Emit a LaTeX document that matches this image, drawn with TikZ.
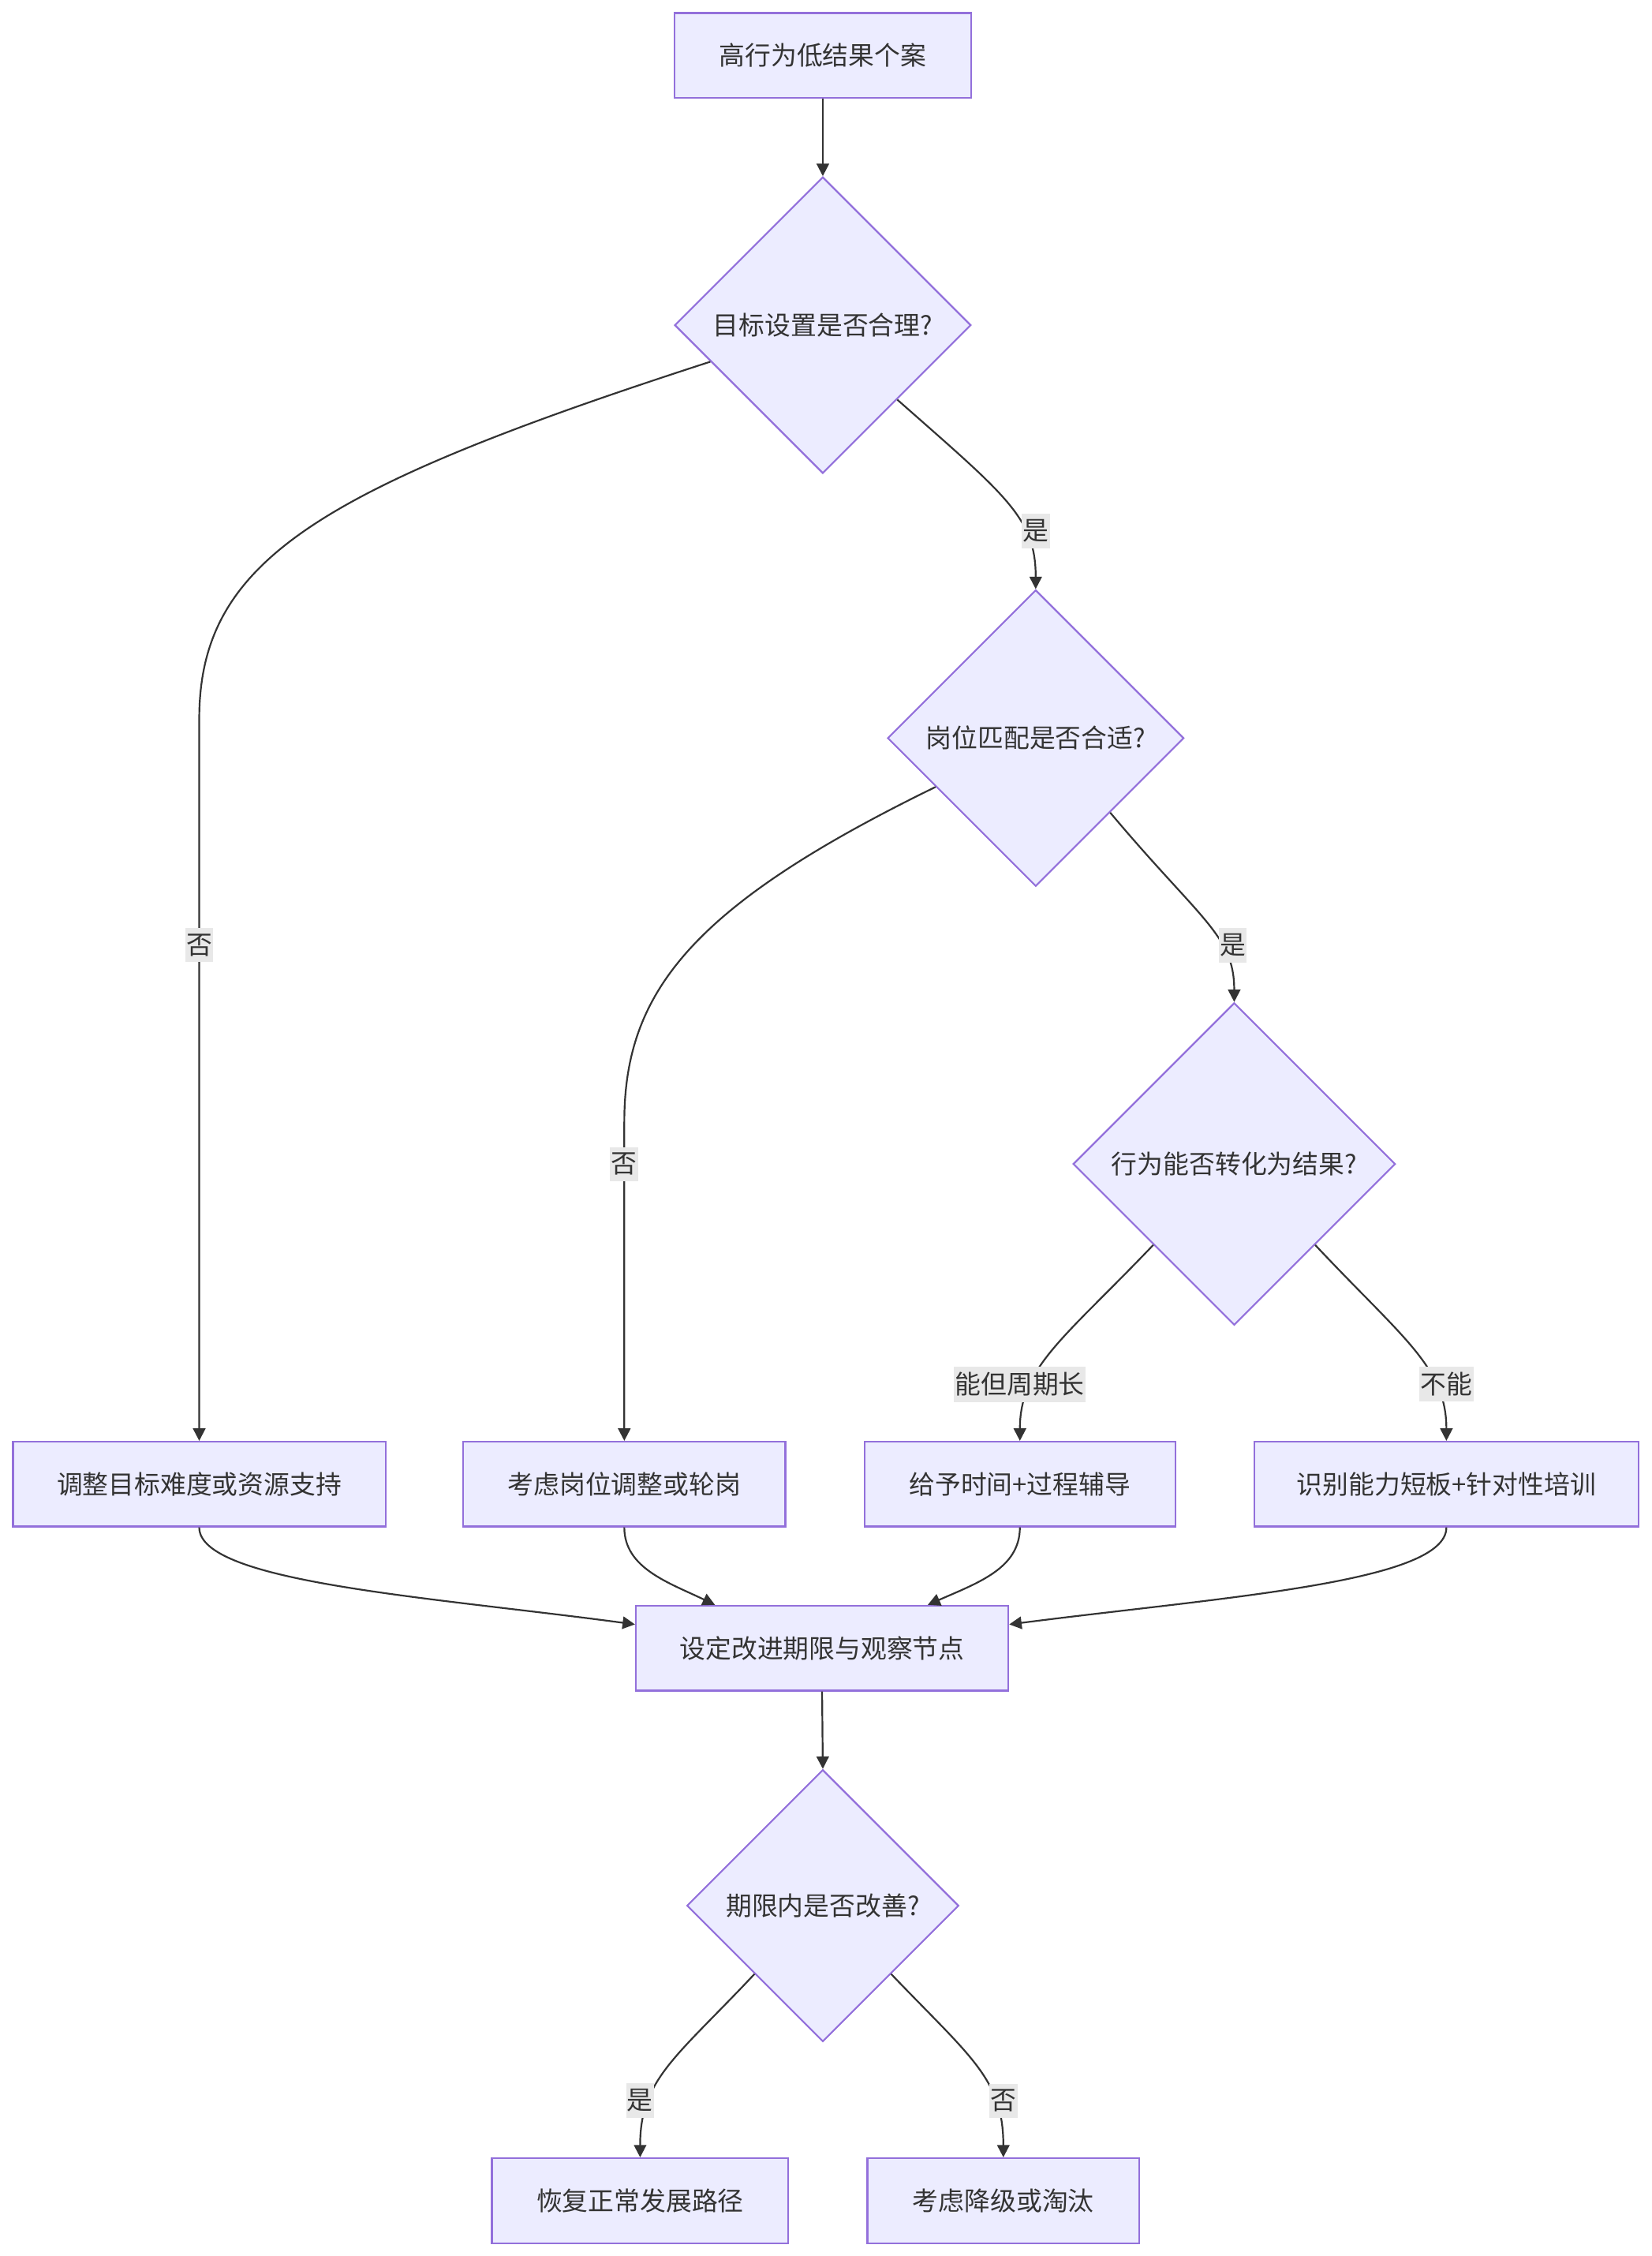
\documentclass[tikz,border=0pt]{standalone}
\usepackage{fontspec}
\setmainfont{Noto Sans CJK SC}
\usetikzlibrary{shapes.geometric,arrows.meta}
\definecolor{nodefill}{HTML}{ECECFF}
\definecolor{nodeline}{HTML}{9370DB}
\definecolor{edgeline}{HTML}{333333}
\definecolor{lblbg}{HTML}{E8E8E8}
\definecolor{txt}{HTML}{333333}
\begin{document}
\begin{tikzpicture}[x=0.5pt,y=-0.5pt,
  txtfont/.style={text=txt, font=\fontsize{9pt}{11pt}\selectfont},
  box/.style={draw=nodeline, fill=nodefill, line width=0.6pt, minimum height=29.5pt, inner sep=0pt, txtfont},
  dia/.style={diamond, draw=nodeline, fill=nodefill, line width=0.6pt, inner sep=0pt, aspect=1, txtfont},
  lbl/.style={fill=lblbg, inner xsep=0.4pt, inner ysep=2pt, txtfont},
  edge/.style={draw=edgeline, line width=0.6pt, -{Triangle[length=4.3pt,width=4.3pt]}}]
\fill[white] (0,0) rectangle (1148,1568);
\useasboundingbox (0,0) rectangle (1148,1568);

\node[box, minimum width=103pt] (A) at (572,38.5) {高行为低结果个案};
\node[dia, minimum width=103pt, minimum height=103pt] (B) at (572,226) {目标设置是否合理?};
\node[dia, minimum width=103pt, minimum height=103pt] (C) at (720,513) {岗位匹配是否合适?};
\node[dia, minimum width=112pt, minimum height=112pt] (D) at (858,809) {行为能否转化为结果?};
\node[box, minimum width=129.5pt] (E) at (138.5,1031.5) {调整目标难度或资源支持};
\node[box, minimum width=112pt] (F) at (434,1031.5) {考虑岗位调整或轮岗};
\node[box, minimum width=108pt] (G) at (709,1031.5) {给予时间+过程辅导};
\node[box, minimum width=133.5pt] (H) at (1005.5,1031.5) {识别能力短板+针对性培训};
\node[box, minimum width=129.5pt] (I) at (571.5,1145.5) {设定改进期限与观察节点};
\node[dia, minimum width=94.5pt, minimum height=94.5pt] (J) at (572,1324.5) {期限内是否改善?};
\node[box, minimum width=103pt] (K) at (445,1529.5) {恢复正常发展路径};
\node[box, minimum width=94.5pt] (L) at (697.5,1529.5) {考虑降级或淘汰};

\draw[edge] (A.south) -- (B.north);
\draw[edge] (B.198.66) .. controls (220,340) and (138.5,390) .. (138.5,500) -- (E.north);
\draw[edge] (B.south east) .. controls (700,345) and (720,360) .. (C.north);
\draw[edge] (C.206.9) .. controls (480,630) and (434,690) .. (434,780) -- (F.north);
\draw[edge] (C.south east) .. controls (835,640) and (858,650) .. (D.north);
\draw[edge] (D.south west) .. controls (740,930) and (709,950) .. (G.north);
\draw[edge] (D.south east) .. controls (975,930) and (1005.5,950) .. (H.north);
\draw[edge] (E.south) .. controls (138.5,1100) and (300,1110) .. ([yshift=8.25pt]I.west);
\draw[edge] (F.south) .. controls (434,1090) and (465,1100) .. ([xshift=-37.25pt]I.north);
\draw[edge] (G.south) .. controls (709,1090) and (680,1100) .. ([xshift=36.75pt]I.north);
\draw[edge] (H.south) .. controls (1005.5,1100) and (850,1110) .. ([yshift=8.25pt]I.east);
\draw[edge] (I.south) -- (J.north);
\draw[edge] (J.south west) .. controls (470,1430) and (445,1445) .. (K.north);
\draw[edge] (J.south east) .. controls (675,1430) and (697.5,1445) .. (L.north);

\node[lbl] (l1) at (138.5,657) {否};
\node[lbl] (l2) at (720,369) {是};
\node[lbl] (l3) at (434,809) {否};
\node[lbl] (l4) at (857,657) {是};
\node[lbl] (l5) at (709,962) {能但周期长};
\node[lbl] (l6) at (1005.5,962) {不能};
\node[lbl] (l7) at (445,1460) {是};
\node[lbl] (l8) at (697.5,1460) {否};
\end{tikzpicture}
\end{document}
